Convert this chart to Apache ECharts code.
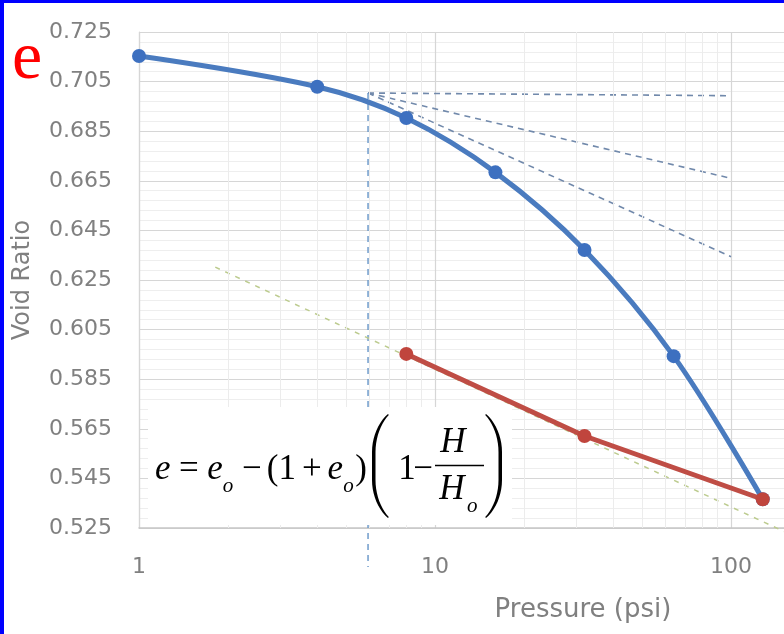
<!DOCTYPE html>
<html>
<head>
<meta charset="utf-8">
<script src="https://cdn.jsdelivr.net/npm/echarts@6/dist/echarts.min.js"></script>
<style>
  html, body { margin: 0; padding: 0; background: #ffffff; }
  #chart { width: 784px; height: 634px; }
</style>
</head>
<body>
<div id="chart"></div>
<script>
// Oedometer test: void ratio against applied pressure (log scale)
const pressure = [1, 4, 8, 16, 32, 64, 128];
const voidRatioLoading = [0.7153, 0.7029, 0.6903, 0.6684, 0.6371, 0.5943, 0.5366];
const unloadPressure = [8, 32, 128];
const voidRatioUnloading = [0.5952, 0.5621, 0.5366];

// Casagrande construction for the preconsolidation pressure
const pcPressure = 5.94;
const pcVoidRatio = 0.7004;
const horizontalEnd = [100, 0.6993];
const tangentEnd = [100, 0.6660];
const bisectorEnd = [100, 0.6344];
const pcDropTo = 0.5093;
const virginExtension = [[1.81, 0.6302], [151, 0.5236]];

// Axis ranges and gridlines
const yRange = { min: 0.525, max: 0.725, step: 0.02, minorSplit: 5 };
const xRange = { min: 1, max: 1000 };
const minorPressureLines = [2, 3, 4, 5, 6, 7, 8, 9, 20, 30, 40, 50, 60, 70, 80, 90];

const labelFont = "'DejaVu Sans', 'Open Sans', sans-serif";
const labelGrey = '#808080';
const serif = "'Liberation Serif', 'Times New Roman', serif";

// ---- formula layout: e = e_o - (1 + e_o)(1 - H/H_o) ----
const measureCtx = document.createElement('canvas').getContext('2d');
function textWidth(t, font) { measureCtx.font = font; return measureCtx.measureText(t).width; }
const F = 35, FS = 21;
const fItalic = 'italic ' + F + 'px ' + serif;
const fRoman = F + 'px ' + serif;
const fSub = 'italic ' + FS + 'px ' + serif;
const mainMid = 470, subMid = 486;

function textEl(t, font, x, y, align, color) {
  return {
    type: 'text', x: x, y: y, z: 102,
    style: {
      text: t, font: font, fill: color || '#000000',
      align: align || 'left', textAlign: align || 'left',
      verticalAlign: 'middle', textVerticalAlign: 'middle'
    }
  };
}

// sample a cubic bezier into points
function cubic(p0, p1, p2, p3, n) {
  const pts = [];
  for (let i = 0; i <= n; i++) {
    const t = i / n, u = 1 - t;
    pts.push([
      u * u * u * p0[0] + 3 * u * u * t * p1[0] + 3 * u * t * t * p2[0] + t * t * t * p3[0],
      u * u * u * p0[1] + 3 * u * u * t * p1[1] + 3 * u * t * t * p2[1] + t * t * t * p3[1]
    ]);
  }
  return pts;
}
// tall bracket outline: outer edge at xo, inner edge at xi, tips at xt (top y0, bottom y1)
function bracket(xt, xo, xi, y0, y1) {
  const a = y0 + 38, b = y1 - 38;
  const tipIn = xt + (xt > xo ? 0.8 : -0.8);
  const outer = cubic([xt, y0], [xt + (xo - xt) * 0.6, y0 + 8], [xo, y0 + 23], [xo, a], 10)
    .concat(cubic([xo, b], [xo, y1 - 23], [xt + (xo - xt) * 0.6, y1 - 8], [xt, y1], 10));
  const inner = cubic([tipIn, y1 - 1], [xt + (xi - xt) * 0.55, y1 - 9], [xi, y1 - 23], [xi, b], 10)
    .concat(cubic([xi, a], [xi, y0 + 23], [xt + (xi - xt) * 0.55, y0 + 9], [tipIn, y0 + 1], 10));
  return {
    type: 'polygon', z: 102,
    shape: { points: outer.concat(inner) },
    style: { fill: '#000000' }
  };
}

const leftTokens = [
  ['e', fItalic, 0.2], ['=', fRoman, 0.2], ['e', fItalic, 0], ['o', fSub, 0.2, true],
  ['\u2212', fRoman, 0.12], ['(', fRoman, 0], ['1', fRoman, 0.14], ['+', fRoman, 0.14],
  ['e', fItalic, 0], ['o', fSub, 0.04, true], [')', fRoman, 0]
];
const leftStart = 155, leftEnd = 367;
let natural = 0, gapTotal = 0;
leftTokens.forEach(tk => { natural += textWidth(tk[0], tk[1]); gapTotal += tk[2] * F; });
const gapScale = Math.max(0.2, (leftEnd - leftStart - natural) / gapTotal);
const formulaEls = [
  { type: 'rect', x: 148, y: 407, z: 101, shape: { width: 364, height: 118 }, style: { fill: '#ffffff' } }
];
let cx = leftStart;
leftTokens.forEach(tk => {
  formulaEls.push(textEl(tk[0], tk[1], cx, tk[3] ? subMid : mainMid));
  cx += textWidth(tk[0], tk[1]) + tk[2] * F * gapScale;
});
formulaEls.push(textEl('1', fRoman, 407, mainMid, 'center'));
formulaEls.push(textEl('\u2212', fRoman, 423, mainMid, 'center'));
formulaEls.push(textEl('H', fItalic, 453, 443, 'center'));
formulaEls.push(textEl('H', fItalic, 452, 490, 'center'));
formulaEls.push(textEl('o', fSub, 467, 506));
formulaEls.push({
  type: 'line', z: 102,
  shape: { x1: 435, y1: 465.5, x2: 484, y2: 465.5 },
  style: { stroke: '#000000', lineWidth: 1.6 }
});
formulaEls.push(bracket(388, 372, 375.5, 414, 518));
formulaEls.push(bracket(486, 502, 498.5, 414, 518));

const dashedBlue = { color: '#7189ab', width: 1.6, type: [6, 5] };

function constructionLine(points, lineStyle, clip) {
  return {
    type: 'line', data: points, symbol: 'none', silent: true,
    clip: clip !== false, lineStyle: lineStyle, z: 3, animation: false
  };
}

const chart = echarts.init(document.getElementById('chart'), null, { renderer: 'canvas' });
chart.setOption({
  animation: false,
  backgroundColor: '#ffffff',
  // the three-decade plot area runs past the right edge of the canvas
  grid: { left: 139, top: 32, width: 888, height: 496, containLabel: false, outerBoundsMode: 'none' },
  xAxis: {
    type: 'log', logBase: 10, min: xRange.min, max: xRange.max,
    name: 'Pressure (psi)', nameLocation: 'middle', nameGap: 69,
    nameTextStyle: { fontFamily: labelFont, fontSize: 26, color: labelGrey },
    axisLine: { show: true, lineStyle: { color: '#c6c6c6', width: 1.5 } },
    axisTick: { show: false },
    axisLabel: { fontFamily: labelFont, fontSize: 22, color: labelGrey, margin: 28 },
    splitLine: { show: true, lineStyle: { color: '#d6d6d6', width: 1.2 } }
  },
  yAxis: {
    type: 'value', min: yRange.min, max: yRange.max, interval: yRange.step,
    name: 'Void Ratio', nameLocation: 'middle', nameGap: 104,
    nameTextStyle: { fontFamily: labelFont, fontSize: 24, color: labelGrey },
    axisLine: { show: true, lineStyle: { color: '#d6d6d6', width: 1.2 } },
    axisTick: { show: false },
    axisLabel: {
      fontFamily: labelFont, fontSize: 22, color: labelGrey, margin: 27,
      formatter: v => v.toFixed(3)
    },
    splitLine: { show: true, lineStyle: { color: '#d6d6d6', width: 1.2 } },
    minorTick: { show: false, splitNumber: yRange.minorSplit },
    minorSplitLine: { show: true, lineStyle: { color: '#eeeeee', width: 1 } }
  },
  graphic: [
    { type: 'rect', x: 0, y: 0, z: 200, shape: { width: 4, height: 634 }, style: { fill: '#0000ff' } },
    { type: 'rect', x: 0, y: 0, z: 200, shape: { width: 784, height: 3 }, style: { fill: '#0000ff' } },
    textEl('e', '68px ' + serif, 27, 60, 'center', '#ff0000')
  ].concat(formulaEls),
  series: [
    {
      type: 'line', data: [], silent: true, z: 1,
      markLine: {
        silent: true, symbol: 'none', animation: false,
        label: { show: false },
        lineStyle: { color: '#ececec', width: 1, type: 'solid' },
        data: minorPressureLines.map(v => ({ xAxis: v }))
      }
    },
    constructionLine([[pcPressure, pcVoidRatio], horizontalEnd], dashedBlue),
    constructionLine([[pcPressure, pcVoidRatio], tangentEnd], dashedBlue),
    constructionLine([[pcPressure, pcVoidRatio], bisectorEnd], dashedBlue),
    constructionLine([[pcPressure, pcVoidRatio], [pcPressure, pcDropTo]],
      { color: '#6f9ccc', width: 1.5, type: [6, 5] }, false),
    constructionLine(virginExtension, { color: '#bccb8e', width: 1.5, type: [5, 6] }, false),
    {
      name: 'Loading', type: 'line', smooth: 0.35,
      data: pressure.map((p, i) => [p, voidRatioLoading[i]]),
      symbol: 'circle', symbolSize: 14, z: 5,
      lineStyle: { color: '#4a7bbf', width: 5 },
      itemStyle: { color: '#3d70c0' }
    },
    {
      name: 'Unloading', type: 'line',
      data: unloadPressure.map((p, i) => [p, voidRatioUnloading[i]]),
      symbol: 'circle', symbolSize: 14, z: 6,
      lineStyle: { color: '#bf4d45', width: 5 },
      itemStyle: { color: '#c0453d' }
    }
  ]
});
</script>
</body>
</html>
